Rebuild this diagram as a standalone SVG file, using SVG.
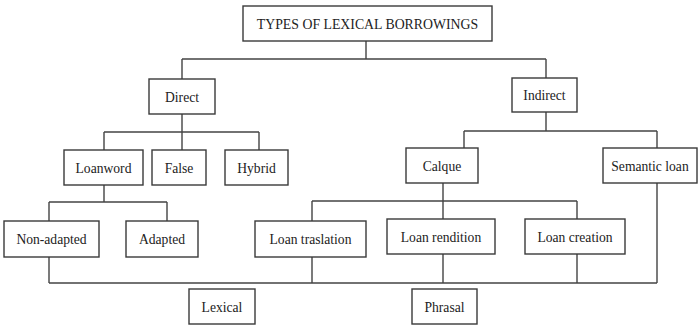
<svg xmlns="http://www.w3.org/2000/svg" width="700" height="326" viewBox="0 0 700 326">
<style>
.box{fill:#fff;stroke:#3a3a3a;stroke-width:1.4}
text{font-family:'Liberation Serif','Times New Roman',Times,serif;font-size:13.6px;fill:#222;text-anchor:middle}
#connectors path{fill:none;stroke:#444;stroke-width:1.4}
</style>
<rect width="700" height="326" fill="#fff"/>
<g id="connectors">
<path d="M366 41V59M182 59H546M182 59V79M546 59V78"/>
<path d="M182 114V132M104 132H259M104 132V150M182 132V150M259 132V150"/>
<path d="M104 185V202M49 202H167M49 202V221M167 202V221"/>
<path d="M546 112V131M464 131H657M464 131V148M657 131V148"/>
<path d="M443 183V219M312 201H577M312 201V221M577 201V219"/>
<path d="M49 257V283M312 257V283M443 254V283M577 254V283M657 183V283M49 283H657"/>
</g>
<g id="title"><rect class="box" x="243" y="6" width="249" height="35"/><text x="367.5" y="29" style="font-size:13.8px">TYPES OF LEXICAL BORROWINGS</text></g>
<g id="direct"><rect class="box" x="149" y="79" width="66" height="35"/><text x="182" y="101.5">Direct</text></g>
<g id="indirect"><rect class="box" x="512" y="78" width="65" height="34"/><text x="544.5" y="100">Indirect</text></g>
<g id="loanword"><rect class="box" x="64" y="150" width="79" height="35"/><text x="103.5" y="172.5">Loanword</text></g>
<g id="false"><rect class="box" x="152" y="150" width="54" height="35"/><text x="179" y="172.5">False</text></g>
<g id="hybrid"><rect class="box" x="225" y="150" width="63" height="35"/><text x="256.5" y="172.5">Hybrid</text></g>
<g id="calque"><rect class="box" x="406" y="148" width="72" height="35"/><text x="442" y="170.5">Calque</text></g>
<g id="semantic-loan"><rect class="box" x="603" y="148" width="94" height="35"/><text x="650" y="170.5">Semantic loan</text></g>
<g id="non-adapted"><rect class="box" x="4" y="221" width="95" height="36"/><text x="51.5" y="244">Non-adapted</text></g>
<g id="adapted"><rect class="box" x="126" y="221" width="72" height="36"/><text x="162" y="244">Adapted</text></g>
<g id="loan-traslation"><rect class="box" x="255" y="221" width="111" height="36"/><text x="310.5" y="244">Loan traslation</text></g>
<g id="loan-rendition"><rect class="box" x="387" y="219" width="108" height="35"/><text x="441" y="241.5">Loan rendition</text></g>
<g id="loan-creation"><rect class="box" x="525" y="219" width="100" height="35"/><text x="575" y="241.5">Loan creation</text></g>
<g id="lexical"><rect class="box" x="189" y="289" width="66" height="35"/><text x="222" y="311.5">Lexical</text></g>
<g id="phrasal"><rect class="box" x="412" y="289" width="65" height="35"/><text x="444.5" y="311.5">Phrasal</text></g>
</svg>
